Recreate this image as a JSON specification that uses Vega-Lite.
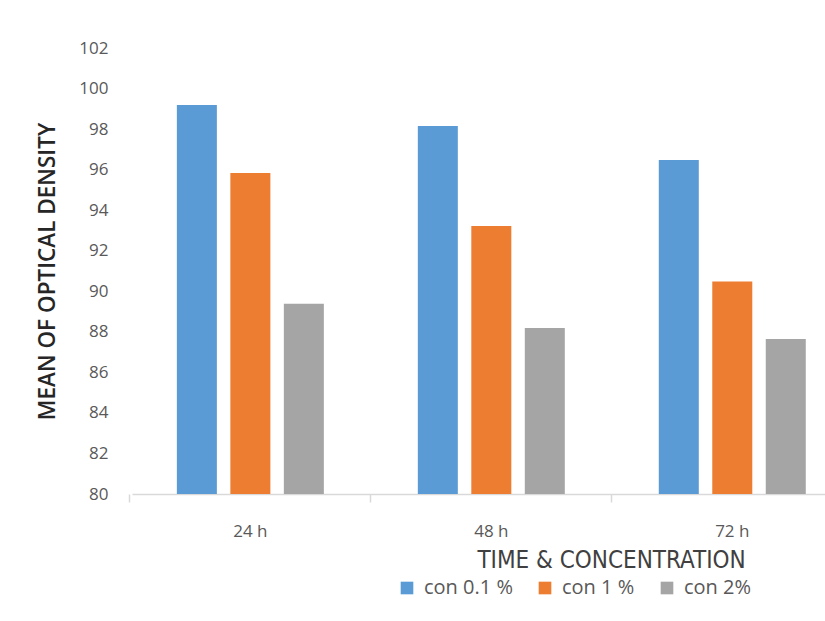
{
  "$schema": "https://vega.github.io/schema/vega-lite/v6.json",
  "autosize": "none",
  "width": 693,
  "height": 446,
  "padding": {"left": 132, "top": 48, "right": 0, "bottom": 127},
  "background": "white",
  "config": {"view": {"stroke": null}, "font": "Open Sans"},
  "data": {"values": [
    {"time": "24 h", "con": "con 0.1 %", "value": 99.19},
    {"time": "24 h", "con": "con 1 %", "value": 95.84},
    {"time": "24 h", "con": "con 2%", "value": 89.39},
    {"time": "48 h", "con": "con 0.1 %", "value": 98.15},
    {"time": "48 h", "con": "con 1 %", "value": 93.22},
    {"time": "48 h", "con": "con 2%", "value": 88.19},
    {"time": "72 h", "con": "con 0.1 %", "value": 96.48},
    {"time": "72 h", "con": "con 1 %", "value": 90.48},
    {"time": "72 h", "con": "con 2%", "value": 87.65}
  ]},
  "mark": {"type": "bar", "clip": true},
  "encoding": {
    "x": {
      "field": "time", "type": "nominal",
      "scale": {"paddingInner": 0.39, "paddingOuter": 0.133, "align": 0.7},
      "axis": {
        "title": "TIME & CONCENTRATION",
        "titleFont": "DejaVu Sans Condensed",
        "titleFontSize": 24, "titleFontWeight": "normal", "titleColor": "#404040",
        "titleX": 479, "titleY": 73, "titleAlign": "center", "titleBaseline": "alphabetic",
        "labelAngle": 0, "labelFontSize": 17, "labelColor": "#595959", "labelPadding": 21,
        "domainColor": "#D9D9D9", "domainWidth": 1.5,
        "tickColor": "#D9D9D9", "tickSize": 8, "tickWidth": 1.5, "bandPosition": -0.32
      }
    },
    "xOffset": {"field": "con", "type": "nominal", "scale": {"paddingInner": 0.252, "paddingOuter": 0}},
    "y": {
      "field": "value", "type": "quantitative",
      "scale": {"domain": [80, 102], "nice": false, "zero": false},
      "axis": {
        "title": "MEAN OF OPTICAL DENSITY",
        "titleFontSize": 22.5, "titleFontWeight": 600, "titleColor": "#262626",
        "titlePadding": 19,
        "values": [80, 82, 84, 86, 88, 90, 92, 94, 96, 98, 100, 102],
        "labelFontSize": 17, "labelColor": "#595959", "labelPadding": 24,
        "ticks": false, "domain": false, "grid": false
      }
    },
    "color": {
      "field": "con", "type": "nominal",
      "scale": {"domain": ["con 0.1 %", "con 1 %", "con 2%"], "range": ["#5B9BD5", "#ED7D31", "#A5A5A5"]},
      "legend": {
        "title": null, "orient": "none", "direction": "horizontal",
        "legendX": 265, "legendY": 530,
        "symbolType": "square", "symbolSize": 160, "symbolStrokeWidth": 0,
        "labelFontSize": 20, "labelColor": "#595959", "columnPadding": 22, "labelOffset": 7
      }
    }
  }
}
